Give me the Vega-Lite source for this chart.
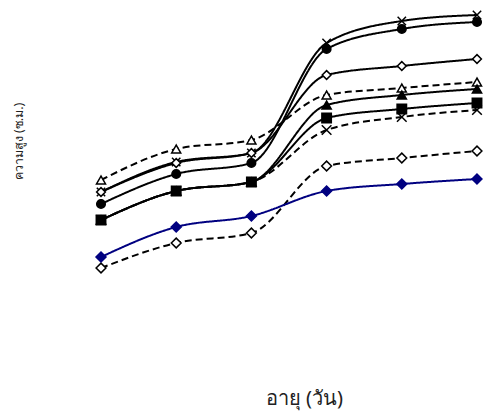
{
  "$schema": "https://vega.github.io/schema/vega-lite/v6.json",
  "width": 483,
  "height": 415,
  "autosize": {"type": "none"},
  "padding": 0,
  "background": "white",
  "config": {"view": {"stroke": null}},
  "data": {
    "values": [
      {"s": "A", "d": 1, "h": 22.3}, {"s": "A", "d": 2, "h": 25.3}, {"s": "A", "d": 3, "h": 26.2}, {"s": "A", "d": 4, "h": 37.2}, {"s": "A", "d": 5, "h": 39.4}, {"s": "A", "d": 6, "h": 40.0},
      {"s": "B", "d": 1, "h": 21.1}, {"s": "B", "d": 2, "h": 24.1}, {"s": "B", "d": 3, "h": 25.2}, {"s": "B", "d": 4, "h": 36.6}, {"s": "B", "d": 5, "h": 38.6}, {"s": "B", "d": 6, "h": 39.3},
      {"s": "C", "d": 1, "h": 22.3}, {"s": "C", "d": 2, "h": 25.2}, {"s": "C", "d": 3, "h": 26.2}, {"s": "C", "d": 4, "h": 34.0}, {"s": "C", "d": 5, "h": 34.9}, {"s": "C", "d": 6, "h": 35.6},
      {"s": "D", "d": 1, "h": 23.5}, {"s": "D", "d": 2, "h": 26.6}, {"s": "D", "d": 3, "h": 27.5}, {"s": "D", "d": 4, "h": 32.0}, {"s": "D", "d": 5, "h": 32.7}, {"s": "D", "d": 6, "h": 33.3},
      {"s": "F", "d": 1, "h": 19.5}, {"s": "F", "d": 2, "h": 22.4}, {"s": "F", "d": 3, "h": 23.3}, {"s": "F", "d": 4, "h": 29.7}, {"s": "F", "d": 5, "h": 30.6}, {"s": "F", "d": 6, "h": 31.2},
      {"s": "E", "d": 1, "h": 19.5}, {"s": "E", "d": 2, "h": 22.4}, {"s": "E", "d": 3, "h": 23.3}, {"s": "E", "d": 4, "h": 31.0}, {"s": "E", "d": 5, "h": 32.0}, {"s": "E", "d": 6, "h": 32.6},
      {"s": "G", "d": 1, "h": 19.5}, {"s": "G", "d": 2, "h": 22.4}, {"s": "G", "d": 3, "h": 23.3}, {"s": "G", "d": 4, "h": 28.5}, {"s": "G", "d": 5, "h": 29.8}, {"s": "G", "d": 6, "h": 30.5},
      {"s": "H", "d": 1, "h": 14.7}, {"s": "H", "d": 2, "h": 17.2}, {"s": "H", "d": 3, "h": 18.2}, {"s": "H", "d": 4, "h": 24.9}, {"s": "H", "d": 5, "h": 25.7}, {"s": "H", "d": 6, "h": 26.4},
      {"s": "I", "d": 1, "h": 15.8}, {"s": "I", "d": 2, "h": 18.8}, {"s": "I", "d": 3, "h": 19.9}, {"s": "I", "d": 4, "h": 22.4}, {"s": "I", "d": 5, "h": 23.1}, {"s": "I", "d": 6, "h": 23.6}
    ]
  },
  "encoding": {
    "x": {
      "field": "d", "type": "quantitative",
      "scale": {"domain": [-0.3431, 6.0798], "nice": false, "zero": false},
      "axis": {"title": "อายุ (วัน)", "labels": false, "ticks": false, "domain": false, "grid": false,
               "titleX": 304, "titleY": -17, "titleBaseline": "middle", "titleAlign": "center",
               "titleFont": "Noto Sans", "titleFontSize": 20, "titleFontWeight": "normal", "titleColor": "#222"}
    },
    "y": {
      "field": "h", "type": "quantitative",
      "scale": {"domain": [0, 41.5], "nice": false, "zero": false},
      "axis": {"title": "ความสูง (ซ.ม.)", "labels": false, "ticks": false, "domain": false, "grid": false,
               "titleX": 18, "titleY": 141, "titleBaseline": "middle", "titleAlign": "center",
               "titleFont": "Noto Sans", "titleFontSize": 12.5, "titleFontWeight": "normal", "titleColor": "#222"}
    },
    "color": {
      "field": "s", "type": "nominal", "legend": null,
      "scale": {"domain": ["A","B","C","D","E","F","G","H","I"],
                "range": ["#000","#000","#000","#000","#000","#000","#000","#000","#000080"]}
    }
  },
  "layer": [
    {
      "mark": {"type": "line", "interpolate": "monotone", "strokeWidth": 2},
      "encoding": {
        "detail": {"field": "s"},
        "strokeDash": {
          "field": "s", "type": "nominal", "legend": null,
          "scale": {"domain": ["A","B","C","D","E","F","G","H","I"],
                    "range": [[1,0],[1,0],[1,0],[7,4],[1,0],[1,0],[7,4],[7,4],[1,0]]}
        }
      }
    },
    {
      "mark": {"type": "point", "strokeWidth": 1.5, "opacity": 1},
      "encoding": {
        "shape": {
          "field": "s", "type": "nominal", "legend": null,
          "scale": {"domain": ["A","B","C","D","E","F","G","H","I"],
                    "range": ["M-1,-1L1,1M-1,1L1,-1","circle","diamond","triangle-up","triangle-up","square","M-1,-1L1,1M-1,1L1,-1","diamond","diamond"]}
        },
        "fill": {
          "field": "s", "type": "nominal", "legend": null,
          "scale": {"domain": ["A","B","C","D","E","F","G","H","I"],
                    "range": ["#000","#000","#fff","#fff","#000","#000","#000","#fff","#000080"]}
        },
        "stroke": {
          "field": "s", "type": "nominal", "legend": null,
          "scale": {"domain": ["A","B","C","D","E","F","G","H","I"],
                    "range": ["#000","#000","#000","#000","#000","#000","#000","#000","#000080"]}
        },
        "size": {
          "field": "s", "type": "nominal", "legend": null,
          "scale": {"domain": ["A","B","C","D","E","F","G","H","I"],
                    "range": [70, 100, 80, 90, 90, 45, 70, 60, 230]}
        }
      }
    }
  ]
}
